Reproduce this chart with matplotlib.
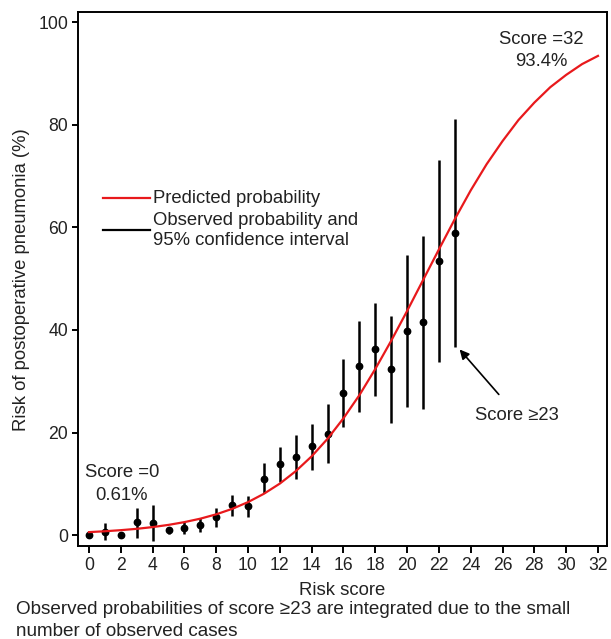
#Import the required libraries
import matplotlib
matplotlib.use("Agg")
import matplotlib.pyplot as plt
from matplotlib.lines import Line2D

#Use an Arial-like font
plt.rcParams['font.family'] = ['Liberation Sans', 'DejaVu Sans']

#Risk score for the predicted curve and its probability (%)
pred_score = list(range(0, 33))
pred_prob = [0.61, 0.78, 0.99, 1.25, 1.59, 2.02, 2.56, 3.23, 4.08, 5.14, 6.46,
             8.09, 10.07, 12.49, 15.38, 18.8, 22.8, 27.3, 32.4, 37.9, 43.7,
             49.7, 55.7, 61.6, 67.2, 72.3, 76.8, 80.9, 84.3, 87.3, 89.7, 91.8, 93.4]

#Observed probability and 95% confidence interval per score
obs_score = list(range(0, 24))
obs_prob = [0.0, 0.6, 0.0, 2.5, 2.4, 1.0, 1.4, 1.9, 3.6, 5.8, 5.7, 11.0,
            13.8, 15.3, 17.3, 19.8, 27.7, 32.9, 36.2, 32.4, 39.8, 41.5, 53.4, 58.9]
obs_low = [0.0, -1.0, 0.0, -0.5, -1.1, 0.3, 0.2, 0.6, 1.6, 3.7, 3.6, 8.2,
           10.4, 10.9, 12.8, 14.0, 21.0, 24.0, 27.1, 21.8, 25.0, 24.6, 33.8, 36.7]
obs_high = [0.0, 2.3, 0.0, 5.4, 5.8, 1.6, 2.6, 3.4, 5.4, 7.8, 7.7, 14.1,
            17.1, 19.5, 21.6, 25.5, 34.4, 41.7, 45.3, 42.7, 54.7, 58.3, 73.1, 81.2]

#Tick labels
x_ticks = list(range(0, 33, 2))
y_ticks = [0, 20, 40, 60, 80, 100]

text_color = '#222222'
fs = 13.3

fig = plt.figure(figsize=(6.11, 6.39), dpi=100)
ax = fig.add_axes([0.1277, 0.1455, 0.8653, 0.8353])

#Confidence interval bars
ax.vlines(obs_score, obs_low, obs_high, color='black', linewidth=1.8, zorder=2)
#Observed points
ax.plot(obs_score, obs_prob, 'o', color='black', markersize=4.6, zorder=3)
#Predicted curve
ax.plot(pred_score, pred_prob, color='#e8191c', linewidth=1.6, zorder=4)

#Axis limits and ticks
ax.set_xlim(-0.69, 32.55)
ax.set_ylim(-2.1, 101.9)
ax.set_xticks(x_ticks)
ax.set_yticks(y_ticks)
ax.tick_params(direction='out', length=5, width=1.4, labelsize=12.7, pad=3,
               colors='black', labelcolor=text_color, top=False, right=False)
ax.tick_params(axis='y', length=4.5, pad=2.5)
for spine in ax.spines.values():
    spine.set_linewidth(1.4)

#Axis labels
ax.set_xlabel("Risk score", fontsize=fs, color=text_color, labelpad=5.5)
ax.set_ylabel("Risk of postoperative pneumonia (%)", fontsize=fs, color=text_color, labelpad=6)

#Legend drawn by hand
ax.add_line(Line2D([0.047, 0.136], [0.6517, 0.6517], transform=ax.transAxes, color='#e8191c', linewidth=1.6))
ax.add_line(Line2D([0.047, 0.136], [0.593, 0.593], transform=ax.transAxes, color='black', linewidth=1.6))
ax.text(0.1419, 0.6517, "Predicted probability", transform=ax.transAxes, fontsize=fs,
        color=text_color, va='center', ha='left')
ax.text(0.1419, 0.6105, "Observed probability and", transform=ax.transAxes, fontsize=fs,
        color=text_color, va='center', ha='left')
ax.text(0.1419, 0.573, "95% confidence interval", transform=ax.transAxes, fontsize=fs,
        color=text_color, va='center', ha='left')

#Annotations
ax.text(2.06, 12.3, "Score =0", fontsize=fs, color=text_color, ha='center', va='center')
ax.text(2.06, 7.8, "0.61%", fontsize=fs, color=text_color, ha='center', va='center')
ax.text(28.46, 96.5, "Score =32", fontsize=fs, color=text_color, ha='center', va='center')
ax.text(28.46, 92.4, "93.4%", fontsize=fs, color=text_color, ha='center', va='center')
ax.annotate("Score ≥23", xy=(23.3, 36.2), xytext=(26.9, 23.4), fontsize=fs, color=text_color,
            ha='center', va='center',
            arrowprops=dict(arrowstyle='-|>', color='black', linewidth=1.2, mutation_scale=14,
                            shrinkA=9, shrinkB=0))

#Footnote
fig.text(0.026, 1 - 609 / 639, "Observed probabilities of score ≥23 are integrated due to the small",
         fontsize=13.6, color=text_color, ha='left', va='center')
fig.text(0.026, 1 - 632 / 639, "number of observed cases",
         fontsize=13.6, color=text_color, ha='left', va='center')

plt.savefig("out.png", dpi=100)
